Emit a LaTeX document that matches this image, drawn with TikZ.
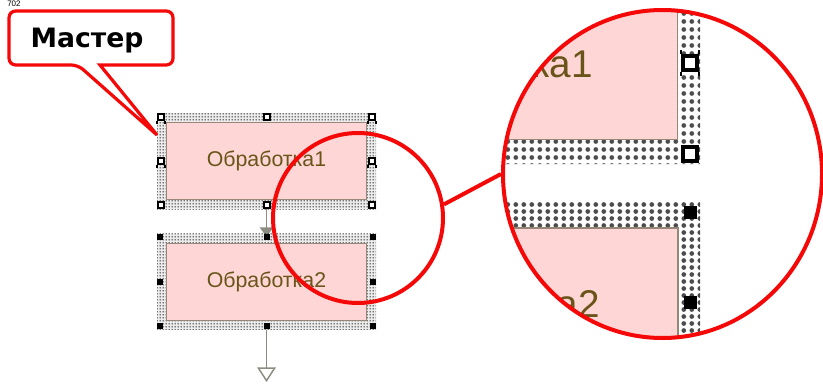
\documentclass[tikz,border=0pt]{standalone}
\usepackage{fontspec}
\setmainfont{Liberation Sans}
\newfontfamily\calloutfont{DejaVu Sans}
\usepackage{xcolor}
\usetikzlibrary{arrows.meta,backgrounds,patterns.meta,shapes.geometric}

\definecolor{selred}{RGB}{245,8,8}
\definecolor{boxpink}{RGB}{255,214,214}
\definecolor{boxedge}{RGB}{150,135,120}
\definecolor{boxtext}{RGB}{105,85,25}
\definecolor{hatchbg}{RGB}{236,236,236}
\definecolor{flowgray}{RGB}{140,140,130}

% dotted selection frame, as drawn by the editor
\tikzdeclarepattern{
  name=finedots,
  type=uncolored,
  bottom left={(0pt,0pt)},
  top right={(2.25pt,2.25pt)},
  tile size={(2.25pt,2.25pt)},
  code={
    \pgfpathcircle{\pgfqpoint{1.125pt}{1.125pt}}{0.72pt}
    \pgfusepath{fill}
  }
}
% the same frame, magnified
\tikzdeclarepattern{
  name=coarsedots,
  type=uncolored,
  bottom left={(0pt,0pt)},
  top right={(6.2pt,5.6pt)},
  tile size={(6.2pt,5.6pt)},
  code={
    \pgfpathcircle{\pgfqpoint{3.1pt}{2.8pt}}{1.9pt}
    \pgfusepath{fill}
  }
}

\begin{document}
\begin{tikzpicture}[x=0.75pt,y=-0.75pt,
    selframe/.style={fill=hatchbg, postaction={pattern=finedots, pattern color=black},
      minimum width=164.25pt, minimum height=72pt, inner sep=0pt, outer sep=0pt},
    stepbox/.style={draw=boxedge, line width=0.75pt, fill=boxpink,
      minimum width=150pt, minimum height=57.75pt, inner sep=0pt,
      text=boxtext, font=\fontsize{16}{16}\selectfont},
    openhandle/.style={draw=black, fill=white, line width=1.5pt,
      minimum size=4.5pt, inner sep=0pt},
    fullhandle/.style={fill=black, minimum size=4.5pt, inner sep=0pt},
    legline/.style={draw=black, line width=1pt},
    legged/.style={append after command={
      (\tikzlastnode.south west) edge[legline] ++(0,#1)
      (\tikzlastnode.south east) edge[legline] ++(0,#1)}},
    legged/.default=2.5,
    uplegs/.style={append after command={
      (\tikzlastnode.north west) edge[legline] ++(0,-#1)
      (\tikzlastnode.north east) edge[legline] ++(0,-#1)}},
    flow/.style={draw=flowgray, line width=1.1pt},
    lensring/.style={circle, draw=selred, line width=3pt,
      minimum size=127.5pt, inner sep=0pt},
    zoomring/.style={ellipse, draw=selred, line width=3pt,
      minimum width=239.25pt, minimum height=246pt, inner sep=0pt},
    pinkfill/.style={draw=boxedge, line width=1pt, fill=boxpink},
    hatchbig/.style={fill=white, postaction={pattern=coarsedots, pattern color=black!70}},
    zoomlabel/.style={text=boxtext, inner sep=0pt,
      font=\fontsize{29}{29}\selectfont},
    calloutline/.style={draw=selred, line width=2.4pt, fill=white,
      line join=miter},
  ]
    \useasboundingbox (0,0) rectangle (823,385);
    \node[font=\fontsize{6}{6}\selectfont, anchor=north west, inner sep=0pt]
      (pageno) at (7,1) {702};

    % the two steps with their handles
    \node[selframe] (sel1) at (266.5,161) {};
    \node[stepbox] (box1) at (sel1.center) {Обработка1};
    \foreach \a/\n/\s in {north west/nw/legged, north/n/, north east/ne/legged,
        west/w/legged, east/e/legged, south west/sw/, south/s/, south east/se/}
      \node[openhandle, \s, anchor=\a] (h1\n) at (sel1.\a) {};

    \node[selframe] (sel2) at (266.5,281.5) {};
    \node[stepbox] (box2) at (sel2.center) {Обработка2};
    \foreach \a/\n in {north west/nw, north/n, north east/ne, west/w,
        east/e, south west/sw, south/s, south east/se}
      \node[fullhandle, anchor=\a] (h2\n) at (sel2.\a) {};

    \begin{scope}[on background layer]
      \draw[flow, -{Triangle[length=7pt, width=10pt]}] (h1s) -- (h2n.center);
    \end{scope}
    \coordinate (flowend) at (266.5,382);
    \draw[flow, -{Triangle[open, length=11pt, width=14pt, fill=white]}]
      (h2s) -- (flowend);

    % magnified part
    \begin{scope}
      \clip (662.5,174) ellipse [x radius=159.5, y radius=164];
      \draw[pinkfill] (480,-10) rectangle (678,140);
      \path[hatchbig] (678,-10) -- (700,-10) -- (700,164) -- (480,164)
        -- (480,140) -- (678,140) -- cycle;
      \path[hatchbig] (480,201) -- (700,201) -- (700,350) -- (678,350)
        -- (678,228) -- (480,228) -- cycle;
      \draw[pinkfill] (480,228) rectangle (678,350);
      \node[zoomlabel, anchor=base east] (zoomtext1) at (593,78) {Обработка1};
      \node[zoomlabel, anchor=base east] (zoomtext2) at (600,317) {Обработка2};
      \node[openhandle, line width=3pt, minimum size=10.5pt, legged=4, uplegs=4]
        (zh1) at (690,63) {};
      \node[openhandle, line width=3pt, minimum size=10.5pt] (zh2) at (690,154) {};
      \node[fullhandle, minimum size=9.75pt] (zh3) at (690,212) {};
      \node[fullhandle, minimum size=9.75pt] (zh4) at (690,302) {};
    \end{scope}

    \node[lensring] (lens) at (358,218) {};
    \node[zoomring] (zoomview) at (662.5,174) {};
    \draw[selred, line width=3pt] (lens.9) -- (zoomview.west);

    % callout
    \coordinate (tip) at (157,135);
    \draw[calloutline] (tip) -- (100,65) [rounded corners=5pt] -- (173,65)
      -- (173,11) -- (9,11) -- (9,65) -- (78,65) [sharp corners] -- cycle;
    \node[font=\calloutfont\bfseries\fontsize{20}{20}\selectfont, anchor=base]
      (master) at (87,48) {Мастер};
\end{tikzpicture}
\end{document}
